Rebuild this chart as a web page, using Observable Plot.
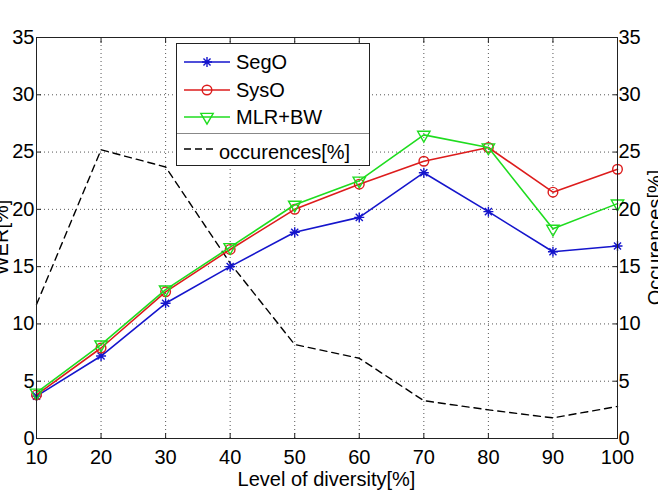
<!DOCTYPE html>
<html><head><meta charset="utf-8">
<script src="https://cdn.jsdelivr.net/npm/d3@7"></script>
<script src="https://cdn.jsdelivr.net/npm/@observablehq/plot@0.6"></script>
<style>
body{margin:0;background:#fff}
svg{font-family:"Liberation Sans",Arial,Helvetica,sans-serif}
</style>
</head><body><div id="chart"></div>
<script>
const diversity = [10, 20, 30, 40, 50, 60, 70, 80, 90, 100];
const segO =       [3.7, 7.2, 11.8, 15.0, 18.0, 19.3, 23.2, 19.8, 16.3, 16.8];
const sysO =       [3.8, 7.9, 12.8, 16.5, 20.0, 22.2, 24.2, 25.4, 21.5, 23.5];
const mlrBW =      [4.0, 8.2, 13.0, 16.7, 20.4, 22.5, 26.5, 25.4, 18.3, 20.5];
const occurences = [11.7, 25.2, 23.7, 15.3, 8.2, 7.0, 3.3, 2.5, 1.8, 2.8];
const yTicks = [0, 5, 10, 15, 20, 25, 30, 35];
const xTicks = diversity;
const xLabel = "Level of diversity[%]";
const yLabelLeft = "WER[%]";
const yLabelRight = "Occurences[%]";
const occLabel = "occurences[%]";

const asterisk = {
  draw(ctx, size) {
    const r = Math.sqrt(size / Math.PI);
    const d = r * Math.SQRT1_2;
    ctx.moveTo(-r, 0); ctx.lineTo(r, 0);
    ctx.moveTo(0, -r); ctx.lineTo(0, r);
    ctx.moveTo(-d, -d); ctx.lineTo(d, d);
    ctx.moveTo(-d, d); ctx.lineTo(d, -d);
  }
};

const series = [
  {name: "SegO", values: segO, color: "#1515cc", symbol: asterisk, r: 5, rotate: 0},
  {name: "SysO", values: sysO, color: "#dd1c1c", symbol: "circle", r: 4.8, rotate: 0},
  {name: "MLR+BW", values: mlrBW, color: "#1fdc1f", symbol: "triangle", r: 4.6, rotate: 180}
];

const occRows = diversity.map((d, i) => ({x: d, y: occurences[i]}));

const W = 658, H = 492;
const mL = 36, mR = 41, mT = 37, mB = 54;
const FS = 20;

const marks = [
  Plot.gridX(xTicks, {stroke: "#444", strokeOpacity: 0.9, strokeDasharray: "1,3"}),
  Plot.gridY(yTicks, {stroke: "#444", strokeOpacity: 0.9, strokeDasharray: "1,3"}),
  Plot.line(occRows, {x: "x", y: "y", stroke: "#000", strokeWidth: 1.4, strokeDasharray: "7,5"})
];
for (const s of series) {
  const rows = diversity.map((d, i) => ({x: d, y: s.values[i]}));
  marks.push(Plot.line(rows, {x: "x", y: "y", stroke: s.color, strokeWidth: 1.6}));
  marks.push(Plot.dot(rows, {x: "x", y: "y", symbol: s.symbol, r: s.r, rotate: s.rotate, fill: "none", stroke: s.color, strokeWidth: 1.4}));
}
marks.push(
  Plot.frame({stroke: "#222", strokeWidth: 1}),
  Plot.axisX(xTicks, {anchor: "bottom", tickSize: 0, tickPadding: 11, label: null, fill: "#000"}),
  Plot.axisY(yTicks, {anchor: "left", tickSize: 0, tickPadding: 2, label: null, fill: "#000"}),
  Plot.axisY(yTicks, {anchor: "right", tickSize: 0, tickPadding: 1, label: null, fill: "#000"}),
  Plot.axisX(xTicks, {anchor: "bottom", tickSize: 5, dy: -5, tickFormat: () => "", label: null, stroke: "#222"}),
  Plot.axisX(xTicks, {anchor: "top", tickSize: 5, dy: 5, tickFormat: () => "", label: null, stroke: "#222"}),
  Plot.axisY(yTicks, {anchor: "left", tickSize: 5, dx: 5, tickFormat: () => "", label: null, stroke: "#222"}),
  Plot.axisY(yTicks, {anchor: "right", tickSize: 5, dx: -5, tickFormat: () => "", label: null, stroke: "#222"})
);

const chart = Plot.plot({
  width: W, height: H,
  marginLeft: mL, marginRight: mR, marginTop: mT, marginBottom: mB,
  x: {type: "linear", domain: [10, 100]},
  y: {type: "linear", domain: [0, 35]},
  style: {fontSize: FS + "px", fontFamily: '"Liberation Sans", Arial, sans-serif', color: "#000", background: "#fff", overflow: "visible"},
  marks
});
document.getElementById("chart").appendChild(chart);

const svg = d3.select(chart);
// axis titles
svg.append("text").attr("x", (mL + W - mR) / 2).attr("y", 486)
  .attr("text-anchor", "middle").attr("font-size", FS).attr("fill", "#000").text(xLabel);
svg.append("text").attr("transform", `translate(8,${(mT + H - mB) / 2}) rotate(-90)`)
  .attr("text-anchor", "middle").attr("font-size", FS).attr("fill", "#000").text(yLabelLeft);
svg.append("text").attr("transform", `translate(662,${(mT + H - mB) / 2}) rotate(-90)`)
  .attr("text-anchor", "middle").attr("font-size", FS).attr("fill", "#000").text(yLabelRight);

// legend
const lg = svg.append("g").attr("text-anchor", "start");
lg.append("rect").attr("x", 176.5).attr("y", 43.5).attr("width", 193).attr("height", 122)
  .attr("fill", "#fff").attr("stroke", "#222");
const rowY = [62, 90, 117];
series.forEach((s, i) => {
  const y = rowY[i];
  lg.append("line").attr("x1", 184).attr("x2", 230).attr("y1", y).attr("y2", y)
    .attr("stroke", s.color).attr("stroke-width", 1.6);
  const sym = typeof s.symbol === "string" ? (s.symbol === "circle" ? d3.symbolCircle : d3.symbolTriangle) : s.symbol;
  lg.append("path").attr("d", d3.symbol(sym, Math.PI * s.r * s.r)())
    .attr("transform", `translate(207,${y}) rotate(${s.rotate})`)
    .attr("fill", "none").attr("stroke", s.color).attr("stroke-width", 1.4);
  lg.append("text").attr("x", 236).attr("y", y).attr("dy", "0.36em").attr("text-anchor", "start")
    .attr("font-size", FS).attr("fill", "#000").text(s.name);
});
lg.append("line").attr("x1", 177).attr("x2", 369).attr("y1", 133.5).attr("y2", 133.5)
  .attr("stroke", "#888").attr("stroke-width", 1);
lg.append("line").attr("x1", 184).attr("x2", 214).attr("y1", 149).attr("y2", 149)
  .attr("stroke", "#000").attr("stroke-width", 1.4).attr("stroke-dasharray", "7,4");
lg.append("text").attr("x", 219).attr("y", 152).attr("dy", "0.36em").attr("text-anchor", "start")
  .attr("font-size", FS).attr("fill", "#000").text(occLabel);
</script>
</body></html>
